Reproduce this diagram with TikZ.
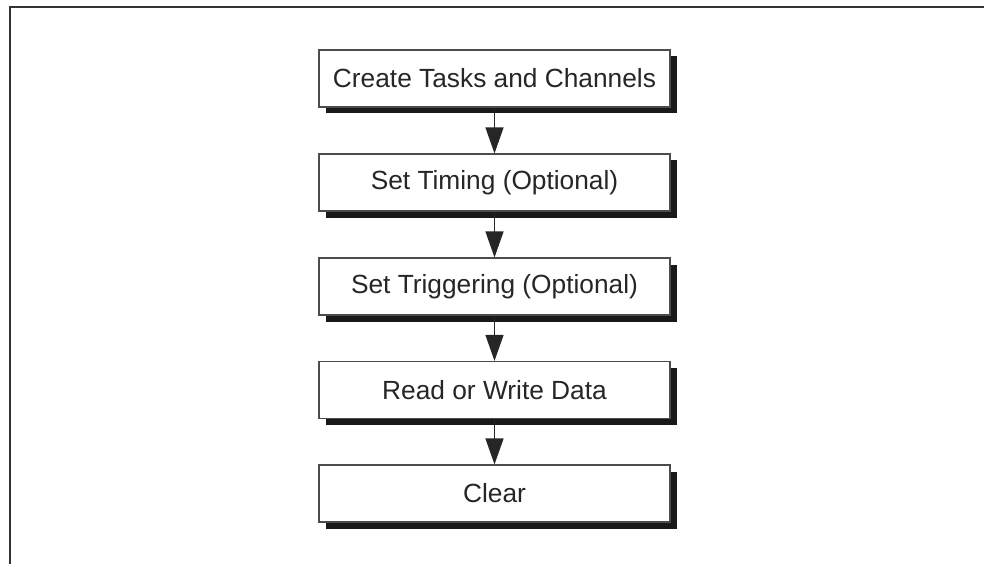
\documentclass[tikz,border=0pt]{standalone}
\usepackage{fontspec}
\setmainfont{Liberation Sans}
\usetikzlibrary{arrows.meta,shadows}
\begin{document}
\begin{tikzpicture}[x=1pt,y=-1pt,
  stepbox/.style={draw=black!70,line width=1.2pt,fill=white,minimum width=351pt,minimum height=57pt,
    inner sep=0pt,font=\fontsize{26.3}{30}\selectfont,text=black!85,
    drop shadow={shadow xshift=6.5pt,shadow yshift=-6.5pt,fill=black!90,opacity=1}},
  flow/.style={line width=1.3pt,draw=black!85,-{Triangle[length=26pt,width=18pt]}},
  frame/.style={line width=2.2pt,draw=black!80}]
\useasboundingbox (0,0) rectangle (984,564);
\fill[white] (0,0) rectangle (984,564);
\coordinate (fa) at (10,564);
\coordinate (fb) at (10,7);
\coordinate (fc) at (984,7);
\draw[frame] (fa) -- (fb) -- (fc);
\node[stepbox] (n1) at (494.5,78.5) {Create Tasks and Channels};
\node[stepbox] (n2) at (494.5,182.5) {Set Timing (Optional)};
\node[stepbox] (n3) at (494.5,286.5) {Set Triggering (Optional)};
\node[stepbox] (n4) at (494.5,390) {Read or Write Data};
\node[stepbox] (n5) at (494.5,493.5) {Clear};
\draw[flow] (n1) -- (n2);
\draw[flow] (n2) -- (n3);
\draw[flow] (n3) -- (n4);
\draw[flow] (n4) -- (n5);
\end{tikzpicture}
\end{document}
